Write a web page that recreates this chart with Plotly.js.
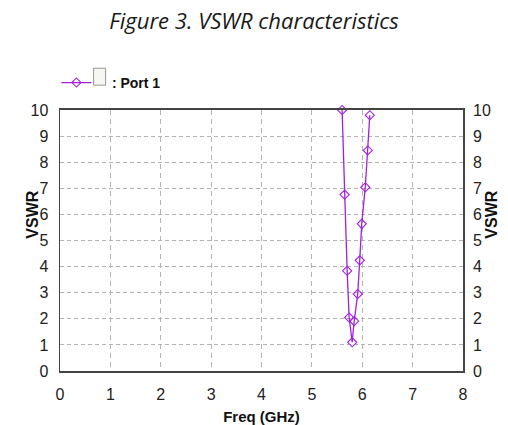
<!DOCTYPE html>
<html>
<head>
<meta charset="utf-8">
<script src="https://cdn.plot.ly/plotly-3.0.1.min.js"></script>
<style>html,body{margin:0;padding:0;background:#fff;}#chart{width:508px;height:425px;}</style>
</head>
<body>
<div id="chart"></div>
<script>
// Data
const freqGHz = [5.60, 5.65, 5.70, 5.74, 5.80, 5.84, 5.91, 5.95, 5.99, 6.06, 6.11, 6.15];
const vswr    = [10.0, 6.76, 3.84, 2.05, 1.10, 1.91, 2.95, 4.24, 5.64, 7.04, 8.45, 9.80];
const xTicks  = [0, 1, 2, 3, 4, 5, 6, 7, 8];
const yTicks  = [0, 1, 2, 3, 4, 5, 6, 7, 8, 9, 10];
const seriesName = ": Port 1";
const chartTitle = "Figure 3. VSWR characteristics";
const xTitle = "Freq (GHz)";
const yTitle = "VSWR";

const purple = "#a020e0";
const narrow = "Liberation Sans, Arial, sans-serif";
const tickFont = {family: narrow, size: 16, color: "#222"};

const trace = {
  x: freqGHz, y: vswr, type: "scatter", mode: "lines+markers",
  name: "\u00a0\u00a0\u00a0\u00a0" + seriesName,
  line: {color: purple, width: 1.3},
  marker: {symbol: "diamond-open", size: 7, color: purple, line: {width: 1.1, color: purple}},
  cliponaxis: false
};

const layout = {
  width: 508, height: 425,
  margin: {l: 60, r: 45, t: 110, b: 54},
  paper_bgcolor: "#fff", plot_bgcolor: "#fff",
  title: {text: "<i>" + chartTitle + "</i>", font: {family: "Open Sans, sans-serif", size: 22, color: "#1a1a1a"},
          x: 0.5, xanchor: "center", y: 0.95, yanchor: "middle", xref: "container"},
  showlegend: true,
  legend: {x: -0.009, xanchor: "left", y: 1.165, yanchor: "top", orientation: "h",
           font: {family: narrow, size: 14, color: "#111", weight: "bold"}, bgcolor: "rgba(0,0,0,0)"},
  xaxis: {range: [0, 8], tickvals: xTicks, ticktext: xTicks.map(String), tickfont: tickFont,
          showgrid: true, gridcolor: "#b4b4b4", gridwidth: 1, griddash: "5px,4px",
          showline: true, linecolor: "#444", linewidth: 2, mirror: true, zeroline: false,
          ticks: "", ticklabelstandoff: 8,
          title: {text: "<b>" + xTitle + "</b>", font: {family: narrow, size: 15, color: "#111"}, standoff: 9}},
  yaxis: {range: [0, 10], tickvals: yTicks, ticktext: yTicks.map(String), tickfont: tickFont,
          showgrid: true, gridcolor: "#b4b4b4", gridwidth: 1, griddash: "4px,3px",
          showline: true, linecolor: "#444", linewidth: 1.5, mirror: true, zeroline: false,
          ticks: "", ticklabelstandoff: 7},
  yaxis2: {range: [0, 10], tickvals: yTicks, ticktext: yTicks.map(String), tickfont: tickFont,
           overlaying: "y", side: "right", showgrid: false, zeroline: false, showline: false,
           ticks: "", ticklabelstandoff: 9},
  annotations: [
    {text: "<b>" + yTitle + "</b>", xref: "paper", yref: "paper", x: -0.093, y: 0.599,
     textangle: -90, showarrow: false, font: {family: narrow, size: 16, color: "#111"}},
    {text: "<b>" + yTitle + "</b>", xref: "paper", yref: "paper", x: 1.098, y: 0.599,
     textangle: -90, showarrow: false, font: {family: narrow, size: 16, color: "#111"}}
  ],
  shapes: [
    {type: "rect", xref: "paper", yref: "paper", x0: 0.0833, x1: 0.1131, y0: 1.095, y1: 1.160,
     fillcolor: "#f6f6f2", line: {color: "#9a9a90", width: 1}}
  ]
};

Plotly.newPlot("chart", [trace, {x: [], y: [], yaxis: "y2", showlegend: false, hoverinfo: "skip"}], layout, {displayModeBar: false, staticPlot: true});
</script>
</body>
</html>
